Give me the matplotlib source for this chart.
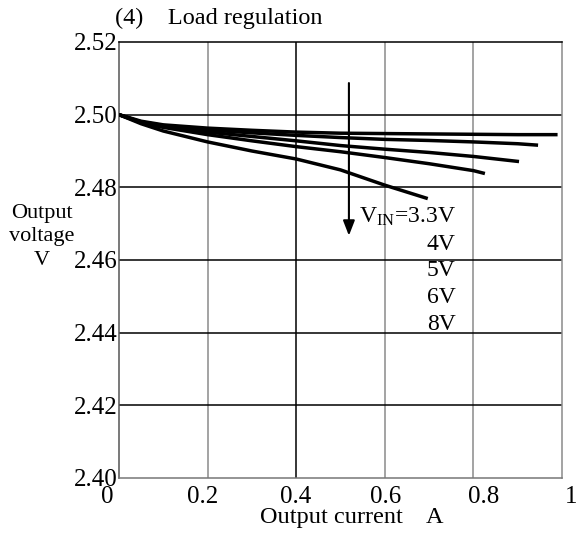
import matplotlib
matplotlib.use("Agg")
import matplotlib.pyplot as plt
from matplotlib.transforms import ScaledTranslation

plt.rcParams['font.family'] = ['Liberation Serif', 'DejaVu Serif']
plt.rcParams['mathtext.fontset'] = 'custom'
plt.rcParams['mathtext.rm'] = 'Liberation Serif'

# Data
x_8v = [0.0, 0.05, 0.1, 0.2, 0.3, 0.4, 0.5, 0.6, 0.7, 0.8, 0.9, 0.99]
y_8v = [2.500, 2.4982, 2.4972, 2.4963, 2.4957, 2.4952, 2.4949, 2.4948, 2.4947, 2.4946, 2.4945, 2.4945]
x_6v = [0.0, 0.05, 0.1, 0.2, 0.3, 0.4, 0.5, 0.6, 0.7, 0.8, 0.9, 0.946]
y_6v = [2.500, 2.4980, 2.4970, 2.4958, 2.4950, 2.4943, 2.4937, 2.4932, 2.4929, 2.4925, 2.4920, 2.4916]
x_5v = [0.0, 0.05, 0.1, 0.2, 0.3, 0.4, 0.5, 0.6, 0.7, 0.8, 0.903]
y_5v = [2.500, 2.4979, 2.4967, 2.4952, 2.4940, 2.4928, 2.4915, 2.4905, 2.4896, 2.4885, 2.4871]
x_4v = [0.0, 0.05, 0.1, 0.2, 0.3, 0.4, 0.5, 0.6, 0.7, 0.8, 0.826]
y_4v = [2.500, 2.4978, 2.4965, 2.4945, 2.4928, 2.4912, 2.4898, 2.4882, 2.4865, 2.4846, 2.4838]
x_33v = [0.0, 0.05, 0.1, 0.2, 0.3, 0.4, 0.5, 0.6, 0.697]
y_33v = [2.500, 2.4975, 2.4955, 2.4925, 2.4900, 2.4878, 2.4848, 2.4806, 2.4769]

x_ticks = [0, 0.2, 0.4, 0.6, 0.8, 1.0]
x_ticklabels = ['0', '0.2', '0.4', '0.6', '0.8', '1']
y_ticks = [2.40, 2.42, 2.44, 2.46, 2.48, 2.50, 2.52]
y_ticklabels = ['2.40', '2.42', '2.44', '2.46', '2.48', '2.50', '2.52']

vin_labels = ['$\\mathregular{V_{IN}}$=3.3V', '4V', '5V', '6V', '8V']
vin_label_y = [2.4718, 2.4644, 2.4570, 2.4496, 2.4422]

W, H = 580, 537
fig = plt.figure(figsize=(W / 100, H / 100), dpi=100)
ax = fig.add_axes([119 / W, 1 - 478 / H, (562 - 119) / W, (478 - 42) / H])

for xs, ys in [(x_8v, y_8v), (x_6v, y_6v), (x_5v, y_5v), (x_4v, y_4v), (x_33v, y_33v)]:
    ax.plot(xs, ys, color='black', lw=2.5, solid_capstyle='butt', zorder=3)

ax.set_xlim(0, 1.0)
ax.set_ylim(2.40, 2.52)
ax.set_xticks(x_ticks)
ax.set_xticklabels(x_ticklabels, fontsize=18)
ax.set_yticks(y_ticks)
ax.set_yticklabels(y_ticklabels, fontsize=18)
ax.tick_params(length=0)
ax.tick_params(axis='y', pad=1)
ax.tick_params(axis='x', pad=6)

# small horizontal shifts of the x tick labels, as typeset in the reference (pixels)
label_shift = [-12, -5, -1, 1, 10, 9]
for lbl, dx in zip(ax.get_xticklabels(), label_shift):
    lbl.set_transform(lbl.get_transform() + ScaledTranslation(dx / 100, 0, fig.dpi_scale_trans))

# grid
for xv in x_ticks[1:-1]:
    ax.axvline(xv, color='black' if abs(xv - 0.4) < 1e-9 else '#8a8a8a', lw=1.1, zorder=1)
for yv in y_ticks[1:-1]:
    ax.axhline(yv, color='black', lw=1.1, zorder=1)

ax.spines['top'].set_color('black')
ax.spines['left'].set_color('#555555')
ax.spines['bottom'].set_color('#777777')
ax.spines['right'].set_color('#8a8a8a')
for s in ax.spines.values():
    s.set_linewidth(1.1)

# arrow
ax.annotate('', xy=(0.519, 2.4667), xytext=(0.519, 2.5087),
            arrowprops=dict(arrowstyle='-|>,head_width=0.35,head_length=0.9',
                            color='black', lw=1.5, shrinkA=0, shrinkB=0), zorder=4)

for lab, yv in zip(vin_labels, vin_label_y):
    ax.text(0.76, yv, lab, ha='right', va='center', fontsize=17, zorder=5)

fig.text(115 / W, 1 - 18 / H, '(4)    Load regulation', ha='left', va='center', fontsize=17.5)
fig.text(42 / W, 1 - 237 / H, 'Output\nvoltage\nV', ha='center', va='center',
         fontsize=16, linespacing=1.35)
fig.text(352 / W, 1 - 518 / H, 'Output current    A', ha='center', va='center', fontsize=17.5)

fig.savefig('out.png', dpi=100, facecolor='white')
